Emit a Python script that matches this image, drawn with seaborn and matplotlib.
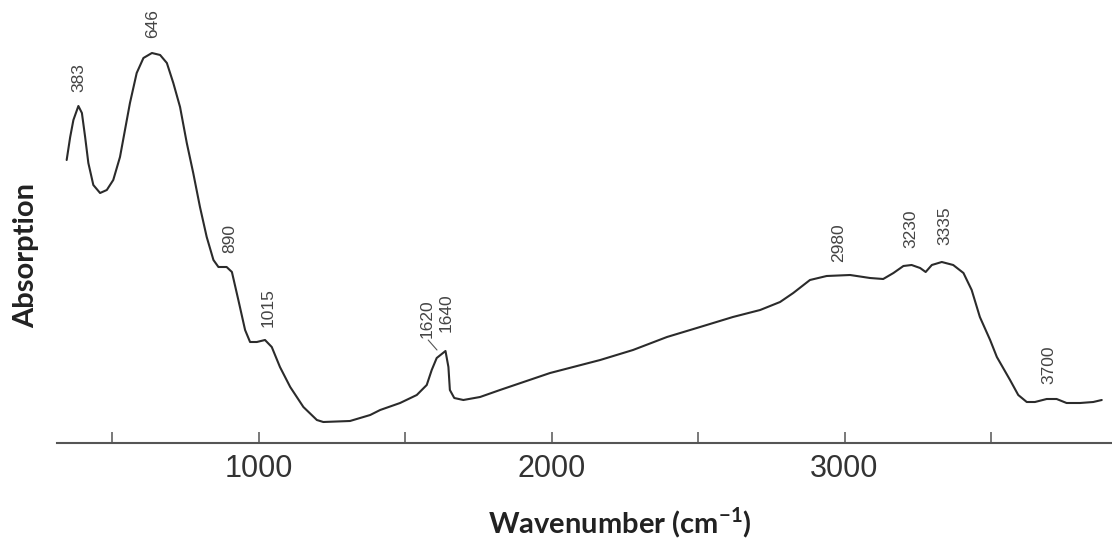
import matplotlib
matplotlib.use("Agg")
import matplotlib.pyplot as plt
import pandas as pd
import seaborn as sns

# IR spectrum (arbitrary absorption units)
wavenumber = [345, 357, 368, 385, 397, 408, 419, 436, 459, 482, 504, 527, 544, 561,
              584, 607, 636, 664, 687, 709, 732, 755, 777, 800, 823, 846, 863, 891,
              909, 931, 954, 971, 994, 1022, 1045, 1073, 1108, 1153, 1199, 1221, 1312,
              1381, 1415, 1483, 1540, 1574, 1591, 1608, 1638, 1648, 1653, 1668, 1699,
              1756, 1824, 1995, 2166, 2278, 2394, 2507, 2619, 2712, 2780, 2825, 2882,
              2939, 3019, 3087, 3132, 3167, 3201, 3229, 3258, 3277, 3298, 3332, 3371,
              3406, 3434, 3462, 3497, 3520, 3565, 3593, 3622, 3650, 3690, 3724, 3758,
              3804, 3849, 3878]
absorption = [283, 306, 323, 337, 330, 306, 280, 258, 250, 253, 263, 286, 313, 340,
              370, 385, 390, 388, 380, 360, 336, 300, 270, 236, 206, 183, 176, 176,
              171, 143, 113, 101, 101, 103, 96, 76, 56, 36, 23, 21, 22,
              28, 33, 40, 48, 58, 73, 85, 92, 76, 53, 45, 43,
              46, 53, 70, 83, 93, 106, 116, 126, 133, 141, 150, 163,
              167, 168, 165, 164, 170, 177, 178, 175, 171, 178, 181, 178,
              170, 153, 126, 103, 86, 63, 48, 41, 41, 44, 44, 40,
              40, 41, 43]

peak_labels = ["383", "646", "890", "1015", "1620", "1640", "2980", "3230", "3335", "3700"]
peak_x = [387, 640, 903, 1032, 1575, 1640, 2981, 3227, 3343, 3698]
peak_y = [351, 405, 190, 116, 105, 111, 181, 195, 198, 59]

tick_values = [500, 1000, 1500, 2000, 2500, 3000, 3500]
tick_labels = ["", "1000", "", "2000", "", "3000", ""]

sns.set_style("white")
plt.rcParams["font.family"] = ["Liberation Sans", "DejaVu Sans"]
plt.rcParams["mathtext.fontset"] = "custom"
plt.rcParams["mathtext.rm"] = "Lato:bold"
plt.rcParams["mathtext.bf"] = "Lato:bold"

fig = plt.figure(figsize=(11.12, 5.42), dpi=100)
ax = fig.add_axes([57 / 1112, 1 - 443 / 542, 1 - 57 / 1112, 443 / 542])

spectrum = pd.DataFrame({"wavenumber": wavenumber, "absorption": absorption})
sns.lineplot(data=spectrum, x="wavenumber", y="absorption", color="#2b2b2b",
             linewidth=1.5, sort=False, ax=ax)

for label, x, y in zip(peak_labels, peak_x, peak_y):
    ax.text(x, y, label, rotation=90, ha="center", va="bottom",
            fontsize=12.5, color="#444444")

# small leader line for the 1620 shoulder
ax.plot([1579, 1609], [103, 93], color="#555555", linewidth=0.8)

ax.set_xlim(312, 3913)
ax.set_ylim(0, 443)
ax.set_xticks(tick_values)
ax.set_xticklabels(tick_labels)
ax.set_yticks([])
ax.tick_params(axis="x", bottom=True, direction="in", length=8, width=1.1,
               color="#555555", labelsize=22, labelcolor="#333333", pad=8)

sns.despine(ax=ax, left=True, top=True, right=True)
ax.spines["bottom"].set_color("#555555")
ax.spines["bottom"].set_linewidth(1.5)

ax.set_xlabel("Wavenumber (cm$^{-1}$)", fontsize=21, fontweight="bold",
              family=["Lato", "DejaVu Sans"], color="#222222")
ax.xaxis.set_label_coords(0.533, -0.142)
ax.set_ylabel("Absorption", fontsize=21, fontweight="bold",
              family=["Lato", "DejaVu Sans"], color="#222222")
ax.yaxis.set_label_coords(-0.017, 0.424)

fig.savefig("out.png", dpi=100)
plt.close(fig)
